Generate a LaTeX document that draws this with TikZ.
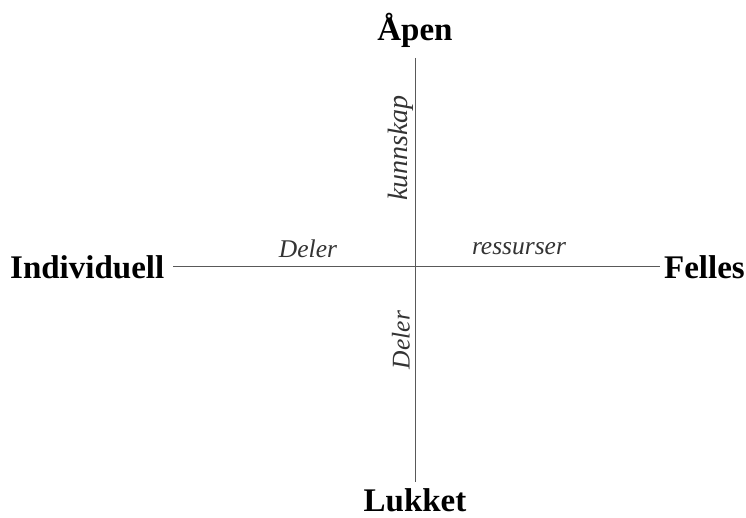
\documentclass[tikz,border=0pt]{standalone}
\usepackage{fontspec}
\setmainfont{Liberation Serif}
\begin{document}
\begin{tikzpicture}[x=1pt,y=-1pt,
  axis/.style={draw=black!65,line width=1pt},
  pole/.style={font=\fontsize{33}{36}\selectfont\bfseries,inner sep=0pt},
  lab/.style={font=\fontsize{25.5}{28}\selectfont\itshape,text=black!80,inner sep=0pt}]
\useasboundingbox (0,0) rectangle (746,518);
\node[pole] (top) at (415,30) {Åpen};
\node[pole] (bot) at (415,500) {Lukket};
\node[pole,anchor=west] (left) at (10,267) {Individuell};
\node[pole,anchor=east] (right) at (745,267) {Felles};
\coordinate (c) at (415,267);
\draw[axis] (415,58) coordinate (t) -- (415,482) coordinate (b);
\draw[axis] (173,267) coordinate (l) -- (660,267) coordinate (r);
\node[lab] (d1) at (308,249) {Deler};
\node[lab] (res) at (519,249) {ressurser};
\node[lab,rotate=90,font=\fontsize{28}{30}\selectfont\itshape] (kun) at (401,148) {kunnskap};
\node[lab,rotate=90] (d2) at (401,340) {Deler};
\end{tikzpicture}
\end{document}
